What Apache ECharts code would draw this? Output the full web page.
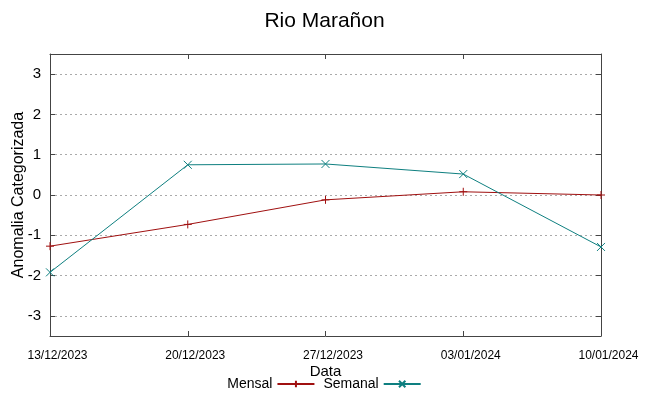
<!DOCTYPE html>
<html>
<head>
<meta charset="utf-8">
<script src="https://cdn.jsdelivr.net/npm/echarts@6/dist/echarts.min.js"></script>
<style>
  html, body { margin: 0; padding: 0; background: #fff; }
  #chart { width: 649px; height: 396px; }
</style>
</head>
<body>
<div id="chart"></div>
<script>
var dates = ['13/12/2023', '20/12/2023', '27/12/2023', '03/01/2024', '10/01/2024']
var mensal = [-1.27, -0.73, -0.12, 0.08, 0.0]
var semanal = [-1.92, 0.75, 0.77, 0.52, -1.29]

var font = 'Liberation Sans'
var plus = 'path://M0,5L10,5M5,0L5,10'
var cross = 'path://M0,0L10,10M10,0L0,10'

var axisBase = {
  axisLine: { show: true, onZero: false, lineStyle: { color: '#444', width: 1 } },
  axisTick: { show: true, inside: true, length: 5, lineStyle: { color: '#444' } }
}

var chart = echarts.init(document.getElementById('chart'), null, { renderer: 'canvas' })
chart.setOption({
  animation: false,
  backgroundColor: '#fff',
  title: {
    text: 'Rio Marañon',
    left: 'center',
    top: 6,
    textStyle: { fontFamily: font, fontSize: 21, fontWeight: 'normal', color: '#000' }
  },
  legend: {
    bottom: 0,
    left: 'center',
    align: 'right',
    itemWidth: 37,
    itemHeight: 8,
    itemGap: 8,
    textStyle: { fontFamily: font, fontSize: 14, color: '#000' },
    data: ['Mensal', 'Semanal']
  },
  grid: { left: 50, right: 48, top: 54, bottom: 60, outerBoundsMode: 'none', containLabel: false },
  xAxis: [
    Object.assign({}, axisBase, {
      type: 'category',
      data: dates,
      boundaryGap: false,
      name: 'Data',
      nameLocation: 'middle',
      nameGap: 28,
      nameMoveOverlap: false,
      nameTextStyle: { fontFamily: font, fontSize: 15, color: '#000' },
      axisLabel: {
        fontFamily: font, fontSize: 12, color: '#000',
        margin: 14, interval: 0, padding: [0, 0, 0, 15]
      },
      splitLine: { show: false }
    }),
    Object.assign({}, axisBase, {
      type: 'category',
      data: dates,
      boundaryGap: false,
      position: 'top',
      axisLabel: { show: false },
      splitLine: { show: false }
    })
  ],
  yAxis: [
    Object.assign({}, axisBase, {
      type: 'value',
      min: -3.5,
      max: 3.5,
      splitNumber: 7,
      name: 'Anomalia Categorizada',
      nameLocation: 'middle',
      nameGap: 23,
      nameMoveOverlap: false,
      nameTextStyle: { fontFamily: font, fontSize: 16, color: '#000' },
      axisLabel: {
        fontFamily: font, fontSize: 15, color: '#000', margin: 9,
        formatter: function (v) { return Number.isInteger(v) ? String(v) : '' }
      },
      splitLine: { show: true, showMinLine: false, showMaxLine: false, lineStyle: { color: '#aaa', type: [2, 3], width: 1 } }
    }),
    Object.assign({}, axisBase, {
      type: 'value',
      min: -3.5,
      max: 3.5,
      splitNumber: 7,
      position: 'right',
      axisLabel: { show: false },
      splitLine: { show: false }
    })
  ],
  series: [
    {
      name: 'Mensal',
      type: 'line',
      data: mensal,
      symbol: plus,
      symbolSize: 8,
      showAllSymbol: true,
      lineStyle: { color: '#a01010', width: 1 },
      itemStyle: { color: '#a01010', borderColor: '#a01010', borderWidth: 1 }
    },
    {
      name: 'Semanal',
      type: 'line',
      data: semanal,
      symbol: cross,
      symbolSize: 8,
      showAllSymbol: true,
      lineStyle: { color: '#0e7f80', width: 1 },
      itemStyle: { color: '#0e7f80', borderColor: '#0e7f80', borderWidth: 1 }
    }
  ]
})
</script>
</body>
</html>
